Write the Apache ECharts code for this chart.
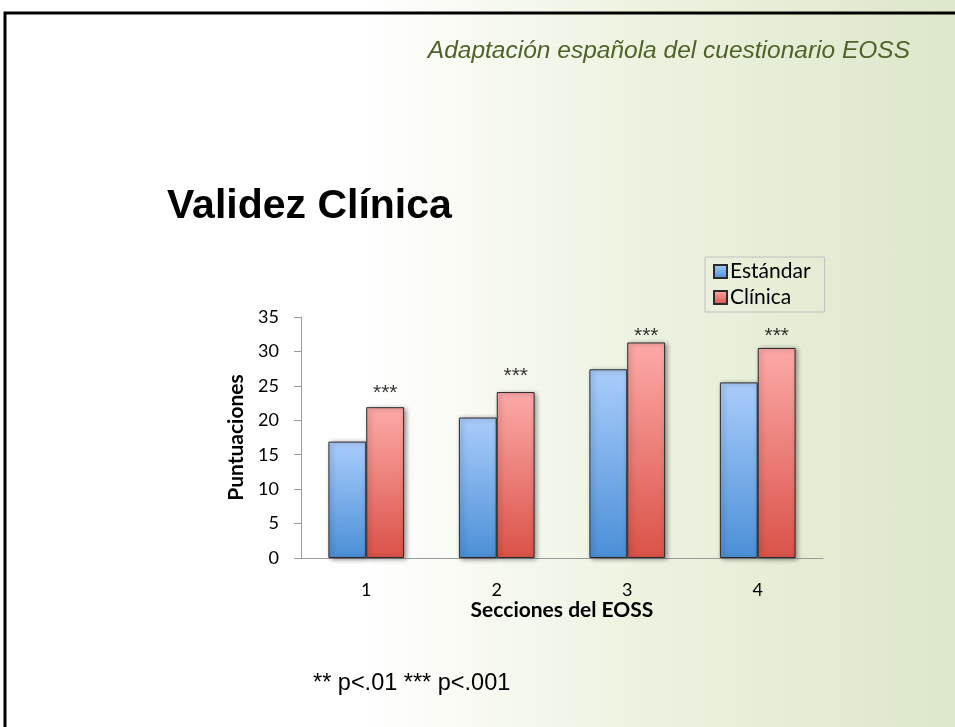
<!DOCTYPE html>
<html>
	<head>
		<meta charset="UTF-8">
		<title>Validez Clínica</title>
		<script src="https://cdn.jsdelivr.net/npm/echarts@6/dist/echarts.min.js"></script>
		<style>
			html, body { margin: 0; padding: 0; }
			#slide {
				width: 955px;
				height: 727px;
				background: linear-gradient(to right, #ffffff 0%, #ffffff 38%, #eef3e2 65%, #dde7ca 100%);
			}
		</style>
	</head>
	<body>
		<div id="slide"></div>
		<script>
			// datos
			var secciones = ['1', '2', '3', '4'];
			var estandar = [16.9, 20.4, 27.4, 25.5];
			var clinica = [21.9, 24.1, 31.3, 30.5];
			// altura (en puntuaciones) donde estan los asteriscos
			var estrellas = [24.5, 27.0, 32.8, 32.8];
			var marcaEstrella = '***';

			var chart = echarts.init(document.getElementById('slide'));

			function grad(top, bottom) {
				return new echarts.graphic.LinearGradient(0, 0, 0, 1, [
					{ offset: 0, color: top },
					{ offset: 1, color: bottom }
				]);
			}

			var fontChart = 'Lato, "Open Sans", sans-serif';
			var sombra = {
				borderColor: '#2b2b2b',
				borderWidth: 1,
				shadowColor: 'rgba(0,0,0,0.45)',
				shadowBlur: 5,
				shadowOffsetX: 2,
				shadowOffsetY: 1
			};

			chart.setOption({
				backgroundColor: 'transparent',
				animation: false,
				graphic: [
					// marco de la diapositiva
					{ type: 'rect', shape: { x: 5, y: 13, width: 960, height: 730 }, style: { fill: 'none', stroke: '#000', lineWidth: 3 } },
					{
						type: 'text', right: 45, top: 39,
						style: { text: 'Adaptación española del cuestionario EOSS', fill: '#4f6228', font: 'italic 24.5px "Liberation Sans", Arial, sans-serif' }
					},
					{
						type: 'text', left: 167, top: 186,
						style: { text: 'Validez Clínica', fill: '#000', font: 'bold 41px "Liberation Sans", Arial, sans-serif' }
					},
					{
						type: 'text', left: 313, top: 672,
						style: { text: '** p<.01 *** p<.001', fill: '#000', font: '23.5px "Liberation Sans", Arial, sans-serif' }
					}
				],
				legend: {
					orient: 'vertical',
					left: 705,
					top: 257,
					data: ['Estándar', 'Clínica'],
					icon: 'rect',
					itemWidth: 13,
					itemHeight: 13,
					itemGap: 5,
					padding: [4, 14, 4, 8],
					borderColor: '#c0c0c0',
					borderWidth: 1,
					textStyle: { fontFamily: fontChart, fontSize: 21, color: '#000', padding: [0, 0, 0, -2] }
				},
				grid: { left: 301, right: 132, top: 317, bottom: 169, containLabel: false },
				xAxis: {
					type: 'category',
					data: secciones,
					name: 'Secciones del EOSS',
					nameLocation: 'middle',
					nameGap: 41,
					nameTextStyle: { fontFamily: fontChart, fontSize: 21, fontWeight: 'bold', color: '#000' },
					axisLine: { lineStyle: { color: '#9a9a9a' } },
					axisTick: { length: 8, lineStyle: { color: '#9a9a9a' } },
					axisLabel: { fontFamily: fontChart, fontSize: 18, color: '#000', margin: 23 }
				},
				yAxis: {
					type: 'value',
					min: 0,
					max: 35,
					interval: 5,
					name: 'Puntuaciones',
					nameLocation: 'middle',
					nameGap: 43,
					nameRotate: 90,
					nameTextStyle: { fontFamily: fontChart, fontSize: 21, fontWeight: 'bold', color: '#000' },
					axisLine: { show: true, lineStyle: { color: '#9a9a9a' } },
					axisTick: { show: true, length: 7, lineStyle: { color: '#9a9a9a' } },
					splitLine: { show: false },
					axisLabel: { fontFamily: fontChart, fontSize: 18, color: '#000', margin: 22 }
				},
				series: [
					{
						name: 'Estándar',
						type: 'bar',
						data: estandar,
						barGap: '0%',
						barCategoryGap: '42%',
						itemStyle: Object.assign({ color: grad('#aacdfc', '#4b8fd7') }, sombra)
					},
					{
						name: 'Clínica',
						type: 'bar',
						data: clinica,
						itemStyle: Object.assign({ color: grad('#fdaaa8', '#da5248') }, sombra)
					},
					{
						name: 'sig',
						type: 'scatter',
						data: estrellas,
						symbol: 'circle',
						symbolSize: 1,
						itemStyle: { color: 'rgba(0,0,0,0)' },
						silent: true,
						z: 5,
						label: {
							show: true,
							position: 'inside',
							formatter: marcaEstrella,
							offset: [19, 4],
							fontFamily: 'Liberation Sans',
							fontSize: 21,
							color: '#000'
						}
					}
				]
			});
		</script>
	</body>
</html>
